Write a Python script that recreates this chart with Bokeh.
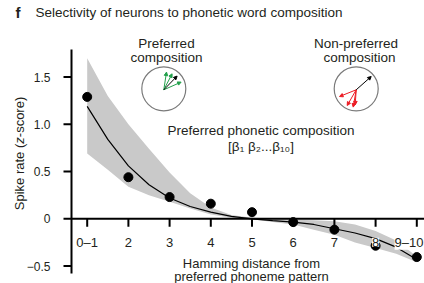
import math
from bokeh.plotting import figure
from bokeh.models import Range1d, Label, Arrow, NormalHead, ColumnDataSource
from bokeh.embed import file_html
from bokeh.resources import INLINE

# ---------------- data ----------------
categories = ["0–1", "2", "3", "4", "5", "6", "7", "8", "9–10"]
positions = [1, 2, 3, 4, 5, 6, 7, 8, 9]
spike_rate = [1.29, 0.44, 0.23, 0.16, 0.07, -0.035, -0.115, -0.285, -0.405]

fit_x = [1, 1.5, 2, 2.5, 3, 3.5, 4, 4.5, 5, 5.5, 6, 6.5, 7, 7.5, 8, 8.5, 9]
fit_y = [1.19, 0.84, 0.56, 0.36, 0.22, 0.13, 0.07, 0.025, 0.0, -0.02, -0.035,
         -0.06, -0.105, -0.15, -0.21, -0.30, -0.43]
band_hi = [1.70, 1.30, 1.00, 0.74, 0.49, 0.27, 0.12, 0.04, 0.01, -0.005, -0.01,
           -0.015, -0.025, -0.06, -0.13, -0.23, -0.40]
band_lo = [0.69, 0.52, 0.34, 0.25, 0.18, 0.11, 0.045, 0.01, -0.005, -0.035, -0.06,
           -0.115, -0.17, -0.25, -0.31, -0.37, -0.46]

y_ticks = [-0.5, 0, 0.5, 1.0, 1.5]
y_tick_labels = ["−0.5", "0", "0.5", "1.0", "1.5"]

# icon arrow shapes (pixel offsets from icon origin; screen y downward)
pref_green_dx = [2.7, 8.3, 17.3]
pref_green_dy = [-17.7, -16.0, -7.7]
pref_black_dx = [13.3]
pref_black_dy = [-13.7]
nonpref_red_dx = [-16.7, -9.0, -3.0, -1.0]
nonpref_red_dy = [6.7, 15.7, 17.3, 15.0]
nonpref_black_dx = [15.0]
nonpref_black_dy = [-13.3]

# ---------------- layout (pixel mapping) ----------------
W, H = 424, 283
X0_PX, PX_X = 86.7, 41.2      # pixel of category position 1, pixels per category
Y0_PX, PX_Y = 218.3, 94.5     # pixel of value 0, pixels per unit
AX_L, AX_T, AX_B = 71, 49, 273  # y-axis line position / extent
TICK = 8


def X(px):
    return 1 + (px - X0_PX) / PX_X


def Y(py):
    return (Y0_PX - py) / PX_Y


FONT = "Liberation Sans"
TXT = "#231f20"

p = figure(width=W, height=H, output_backend="svg", toolbar_location=None,
           x_range=Range1d(X(0), X(W)), y_range=Range1d(Y(H), Y(0)),
           x_axis_location=None, y_axis_location=None,
           min_border=0, min_border_left=0, min_border_right=0,
           min_border_top=0, min_border_bottom=0)
p.outline_line_color = None
p.grid.visible = False
p.background_fill_color = "white"
p.border_fill_color = "white"

# confidence band, fit, points
p.varea(x=fit_x, y1=band_lo, y2=band_hi, fill_color="#c9c9c9")
p.line(x=fit_x, y=fit_y, line_color="black", line_width=1.2)
p.scatter(x=positions, y=spike_rate, size=9, marker="circle",
          fill_color="black", line_color="black")

# ---- y axis ----
p.segment(x0=[X(AX_L)], y0=[Y(AX_B)], x1=[X(AX_L)], y1=[Y(AX_T)],
          line_color="black", line_width=2)
p.segment(x0=[X(AX_L)] * len(y_ticks), y0=y_ticks,
          x1=[X(AX_L - TICK)] * len(y_ticks), y1=y_ticks,
          line_color="black", line_width=2)
for yv, lab in zip(y_ticks, y_tick_labels):
    p.add_layout(Label(x=X(50), y=yv, text=lab, text_align="right",
                       text_baseline="middle", text_font=FONT,
                       text_font_size="12px", text_color=TXT))

# axis title (rotated), with italic z
ylab_parts = [("Spike rate (", "normal", 66.5), ("z", "italic", 6.5), ("-score)", "normal", 40.4)]
start = 153 + sum(w for _, _, w in ylab_parts) / 2
for s, style, w in ylab_parts:
    p.add_layout(Label(x=X(19), y=Y(start), text=s, angle=math.pi / 2,
                       text_align="left", text_baseline="middle", text_font=FONT,
                       text_font_size="13px", text_font_style=style, text_color=TXT))
    start -= w

# ---- x axis drawn at y = 0 ----
p.segment(x0=[X(AX_L)], y0=[0], x1=[X(W)], y1=[0], line_color="black", line_width=2)
p.segment(x0=positions, y0=[0] * len(positions), x1=positions,
          y1=[-TICK / PX_Y] * len(positions), line_color="black", line_width=2)
for xpos, lab in zip(positions, categories):
    last = xpos == positions[-1]
    p.add_layout(Label(x=X(W - 1) if last else xpos, y=Y(241.7), text=lab,
                       text_align="right" if last else "center",
                       text_baseline="alphabetic", text_font=FONT,
                       text_font_size="13px", text_color=TXT,
                       background_fill_color="white", padding=0))


def text(px, py, s, size="13.5px", align="center", style="normal"):
    p.add_layout(Label(x=X(px), y=Y(py), text=s, text_align=align,
                       text_baseline="alphabetic", text_font=FONT,
                       text_font_size=size, text_color=TXT, text_font_style=style))


text(15, 11.5, "f", size="15px", align="left", style="bold")
text(35, 11.5, "Selectivity of neurons to phonetic word composition", align="left")
text(166, 42.5, "Preferred")
text(166, 57, "composition")
text(355.5, 42.5, "Non-preferred")
text(359, 57, "composition")
text(260.5, 130, "Preferred phonetic composition")
text(260.5, 146, "[β₁ β₂...β₁₀]")
text(251, 262.5, "Hamming distance from", size="13px")
text(251, 276, "preferred phoneme pattern", size="13px")

# ---- icons ----
p.scatter(x=[X(163.3), X(355.7)], y=[Y(88.3), Y(88.3)], size=44, marker="circle",
          fill_color=None, line_color="#7a7a7a", line_width=1.2)


def arrows(ox, oy, dxs, dys, color):
    src = ColumnDataSource(dict(
        x0=[X(ox)] * len(dxs), y0=[Y(oy)] * len(dxs),
        x1=[X(ox + a) for a in dxs], y1=[Y(oy + b) for b in dys]))
    p.add_layout(Arrow(source=src, x_start="x0", y_start="y0", x_end="x1", y_end="y1",
                       line_color=color, line_width=1,
                       end=NormalHead(size=3.5, fill_color=color, line_color=color,
                                      line_width=1)))


arrows(163.3, 89.3, pref_green_dx, pref_green_dy, "#22a04b")
arrows(163.3, 89.3, pref_black_dx, pref_black_dy, "black")
arrows(355.7, 89.3, nonpref_red_dx, nonpref_red_dy, "#ec1c24")
arrows(355.7, 89.3, nonpref_black_dx, nonpref_black_dy, "black")

open("out.html", "w").write(file_html(p, INLINE))
